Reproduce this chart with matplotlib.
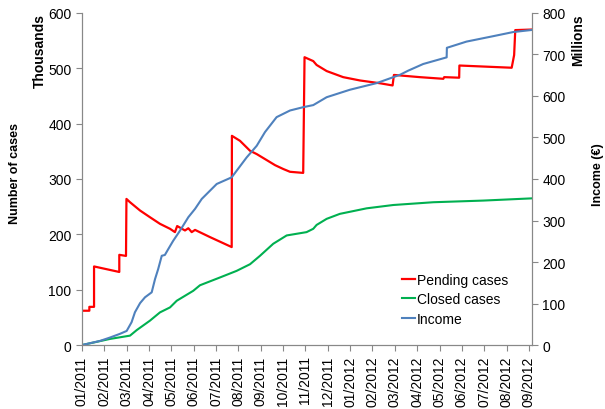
import numpy as np
import matplotlib
matplotlib.use('Agg')
import matplotlib.pyplot as plt

plt.rcParams['font.family'] = ['Liberation Sans', 'DejaVu Sans']

# month index (0 = 01/2011)
month_labels = ['01/2011', '02/2011', '03/2011', '04/2011', '05/2011', '06/2011', '07/2011',
                '08/2011', '09/2011', '10/2011', '11/2011', '12/2011', '01/2012', '02/2012',
                '03/2012', '04/2012', '05/2012', '06/2012', '07/2012', '08/2012', '09/2012']

# Pending cases (thousands)
pend_x = [0, 0.33, 0.33, 0.54, 0.54, 1.67, 1.67, 1.97, 1.99, 2.15, 2.6, 3.04, 3.49, 3.94,
          4.16, 4.26, 4.61, 4.76, 4.91, 5.06, 5.73, 6.70, 6.71, 7.07, 7.52, 7.82, 8.19,
          8.64, 9.01, 9.31, 9.90, 9.96, 10.35, 10.5, 10.95, 11.69, 12.44, 13.33, 13.90,
          13.96, 15.12, 16.17, 16.21, 16.88, 16.89, 19.23, 19.34, 19.39, 20.13]
pend_y = [62, 62, 69, 69, 142, 132, 163, 161, 264, 258, 243, 231, 219, 210,
          204, 215, 207, 211, 204, 208, 195, 177, 378, 369, 351, 345, 336,
          325, 318, 313, 311, 520, 513, 506, 495, 484, 478, 473, 469,
          488, 484, 481, 484, 483, 505, 501, 524, 569, 570]

# Closed cases (thousands)
closed_x = [0, 1.25, 2.15, 2.45, 3.04, 3.49, 3.94, 4.24, 4.98, 5.28, 6.17, 6.92, 7.52,
            7.96, 8.56, 9.16, 10.05, 10.35, 10.5, 10.95, 11.54, 12.74, 13.93, 15.72,
            17.96, 20.13]
closed_y = [0, 11, 17, 27, 44, 59, 68, 80, 98, 108, 122, 134, 146,
            161, 183, 198, 204, 210, 217, 228, 237, 247, 253, 258,
            261, 265]

# Income (millions EUR)
inc_x = [0, 0.81, 1.25, 1.7, 2.0, 2.22, 2.37, 2.6, 2.82, 3.12, 3.27, 3.41, 3.57, 3.71,
         3.86, 4.08, 4.38, 4.76, 5.06, 5.36, 6.03, 6.70, 7.37, 7.82, 8.19, 8.71, 9.31,
         9.9, 10.35, 10.95, 11.99, 13.19, 14.23, 14.6, 15.27, 16.32, 16.33, 17.21,
         18.4, 19.3, 20.13]
inc_y = [0, 10, 18, 27, 34, 55, 79, 101, 115, 127, 159, 183, 215, 217,
         231, 251, 275, 308, 328, 352, 388, 404, 452, 480, 513, 549, 565,
         573, 578, 597, 615, 631, 651, 661, 677, 693, 716, 731,
         744, 754, 759]

fig = plt.figure(figsize=(6.05, 4.10), dpi=100)
ax = fig.add_axes([0.1355, 0.156, 0.7435, 0.81])
ax2 = ax.twinx()

l1, = ax.plot(pend_x, pend_y, color='#FF0000', lw=1.6, label='Pending cases')
l2, = ax.plot(closed_x, closed_y, color='#00B050', lw=1.5, label='Closed cases')
l3, = ax2.plot(inc_x, inc_y, color='#4F81BD', lw=1.5, label='Income')

ax.set_xlim(0, 20.13)
ax.set_ylim(0, 600)
ax2.set_ylim(0, 800)
ax.set_yticks(range(0, 601, 100))
ax2.set_yticks(range(0, 801, 100))
ax.set_xticks(range(len(month_labels)))
ax.set_xticklabels(month_labels, rotation=90)

for a in (ax, ax2):
    a.spines['top'].set_visible(False)
    for s in ('left', 'right', 'bottom'):
        a.spines[s].set_color('#888888')
    a.tick_params(colors='#888888', labelcolor='black', labelsize=10, length=4, direction='out')

# axis titles placed in figure coords
fig.text(15 / 605, 1 - 174 / 410, 'Number of cases', rotation=90, ha='center', va='center',
         fontsize=9, fontweight='bold')
fig.text(598 / 605, 1 - 175 / 410, 'Income (€)', rotation=90, ha='center', va='center',
         fontsize=9, fontweight='bold')
fig.text(0.066, 0.965, 'Thousands', rotation=90, ha='center', va='top', fontsize=10, fontweight='bold')
fig.text(0.955, 0.965, 'Millions', rotation=90, ha='center', va='top', fontsize=10, fontweight='bold')

ax.legend(handles=[l1, l2, l3], loc='lower right', bbox_to_anchor=(0.975, 0.02),
          frameon=False, fontsize=10, handlelength=1.0, handletextpad=0.1, labelspacing=0.4)

fig.savefig('out.png', dpi=100)
